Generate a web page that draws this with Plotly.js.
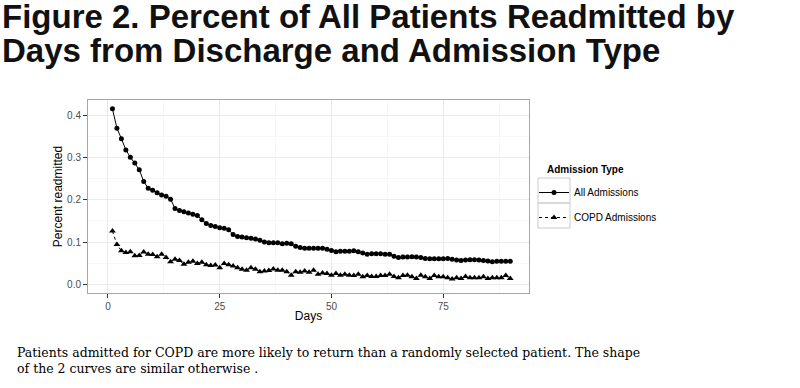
<!DOCTYPE html>
<html>
<head>
<meta charset="utf-8">
<script src="https://cdn.plot.ly/plotly-3.0.1.min.js"></script>
<style>
html,body{margin:0;padding:0;background:#fff;}
#chart{width:800px;height:388px;}
</style>
</head>
<body>
<div id="chart"></div>
<script>
const days = [];
for (let d = 1; d <= 90; d++) days.push(d);

const allAdmissions = [
0.417,0.371,0.346,0.319,0.302,0.288,0.272,0.244,0.228,0.223,
0.217,0.212,0.209,0.202,0.180,0.175,0.172,0.169,0.166,0.163,
0.153,0.144,0.139,0.137,0.134,0.133,0.129,0.118,0.113,0.112,
0.110,0.109,0.107,0.104,0.100,0.098,0.098,0.098,0.096,0.097,
0.096,0.090,0.087,0.085,0.085,0.085,0.085,0.085,0.083,0.080,
0.077,0.078,0.078,0.078,0.079,0.077,0.074,0.071,0.072,0.072,
0.072,0.071,0.071,0.066,0.063,0.064,0.064,0.065,0.064,0.063,
0.061,0.060,0.060,0.060,0.060,0.061,0.059,0.057,0.056,0.057,
0.058,0.058,0.057,0.056,0.055,0.053,0.054,0.054,0.054,0.054
];

const copdAdmissions = [
0.126,0.094,0.079,0.075,0.077,0.067,0.068,0.076,0.071,0.070,
0.065,0.071,0.063,0.053,0.059,0.056,0.047,0.052,0.054,0.049,
0.052,0.046,0.044,0.045,0.039,0.049,0.046,0.043,0.039,0.035,
0.033,0.039,0.035,0.029,0.031,0.032,0.036,0.033,0.033,0.029,
0.021,0.029,0.028,0.031,0.028,0.033,0.023,0.026,0.025,0.021,
0.025,0.021,0.023,0.021,0.020,0.023,0.017,0.020,0.018,0.018,
0.020,0.020,0.023,0.018,0.015,0.020,0.021,0.017,0.013,0.021,
0.017,0.013,0.020,0.017,0.017,0.015,0.012,0.015,0.013,0.018,
0.015,0.015,0.015,0.017,0.013,0.015,0.015,0.015,0.020,0.013
];

const seriesNames = ["All Admissions", "COPD Admissions"];
const xTicks = [0, 25, 50, 75];
const yTicks = [0.0, 0.1, 0.2, 0.3, 0.4];
const yTickLabels = ["0.0", "0.1", "0.2", "0.3", "0.4"];

const titleLine1 = "Figure 2. Percent of All Patients Readmitted by";
const titleLine2 = "Days from Discharge and Admission Type";
const legendTitle = "Admission Type";
const captionText = "Patients admitted for COPD are more likely to return than a randomly selected patient. The shape<br>of the 2 curves are similar otherwise .";

// pixel helpers for layout placement (plot area 88..529 x 100..293)
const PL = 88, PR = 529, PT = 100, PB = 293;
const px = v => (v - PL) / (PR - PL);
const py = v => (PB - v) / (PB - PT);

const traces = [
  {
    x: days, y: allAdmissions, name: seriesNames[0], legendgroup: "a",
    type: "scatter", mode: "lines+markers",
    line: {color: "#000", width: 1, dash: "solid"},
    marker: {symbol: "circle", size: 5, color: "#000"}
  },
  {
    x: days, y: copdAdmissions, name: seriesNames[1], legendgroup: "b",
    type: "scatter", mode: "lines+markers",
    line: {color: "#000", width: 1, dash: "dot"},
    marker: {symbol: "triangle-up", size: 6, color: "#000"}
  }
];

const titleFont = {family: "Liberation Sans, Arial, sans-serif", size: 33, color: "#111"};
const keyBox = (y0, y1) => ({
  type: "rect", xref: "paper", yref: "paper",
  x0: px(538), x1: px(570), y0: py(y1), y1: py(y0),
  line: {color: "#cccccc", width: 1}, fillcolor: "rgba(0,0,0,0)", layer: "below"
});

const layout = {
  width: 800, height: 388,
  paper_bgcolor: "#fff", plot_bgcolor: "#fff",
  margin: {l: PL, r: 800 - PR, t: PT, b: 388 - PB, pad: 0},
  showlegend: true,
  font: {family: "Liberation Sans, Arial, sans-serif", color: "#000"},
  xaxis: {
    range: [-4.47, 94.2],
    tickvals: xTicks, ticktext: xTicks.map(String),
    ticks: "outside", ticklen: 4, tickcolor: "#333", tickwidth: 1,
    tickfont: {size: 10, color: "#4d4d4d"},
    showgrid: true, gridcolor: "#ebebeb", gridwidth: 1,
    minor: {tickvals: [12.5, 37.5, 62.5, 87.5], showgrid: true, gridcolor: "#f7f7f7", gridwidth: 1, ticks: ""},
    zeroline: false,
    showline: true, linecolor: "#a6a6a6", linewidth: 1, mirror: true,
    title: {text: "Days", font: {size: 12, color: "#000"}, standoff: 0}
  },
  yaxis: {
    range: [-0.0214, 0.438],
    tickvals: yTicks, ticktext: yTickLabels,
    ticks: "outside", ticklen: 4, tickcolor: "#333", tickwidth: 1,
    tickfont: {size: 10, color: "#4d4d4d"},
    showgrid: true, gridcolor: "#ebebeb", gridwidth: 1,
    minor: {tickvals: [0.05, 0.15, 0.25, 0.35], showgrid: true, gridcolor: "#f7f7f7", gridwidth: 1, ticks: ""},
    zeroline: false,
    showline: true, linecolor: "#a6a6a6", linewidth: 1, mirror: true,
    title: {text: "Percent readmitted", font: {size: 12, color: "#000"}, standoff: 1}
  },
  legend: {
    x: px(534), xanchor: "left", y: py(178), yanchor: "top",
    font: {size: 10, color: "#000"},
    bgcolor: "rgba(0,0,0,0)",
    tracegroupgap: 6, itemwidth: 30
  },
  shapes: [keyBox(178, 203), keyBox(203, 228)],
  annotations: [
    {text: "<b>" + titleLine1 + "</b>", xref: "paper", yref: "paper",
     x: px(0), y: py(37), xanchor: "left", yanchor: "bottom", showarrow: false, font: titleFont},
    {text: "<b>" + titleLine2 + "</b>", xref: "paper", yref: "paper",
     x: px(0), y: py(71), xanchor: "left", yanchor: "bottom", showarrow: false, font: titleFont},
    {text: "<b>" + legendTitle + "</b>", xref: "paper", yref: "paper",
     x: px(545), y: py(169), xanchor: "left", yanchor: "middle", showarrow: false,
     font: {size: 10, color: "#000"}},
    {text: captionText, xref: "paper", yref: "paper",
     x: px(15), y: py(343), xanchor: "left", yanchor: "top",
     align: "left", showarrow: false,
     font: {family: "DejaVu Serif, Liberation Serif, serif", size: 12.5, color: "#000"}}
  ]
};

Plotly.newPlot("chart", traces, layout, {displayModeBar: false, staticPlot: true});
</script>
</body>
</html>
